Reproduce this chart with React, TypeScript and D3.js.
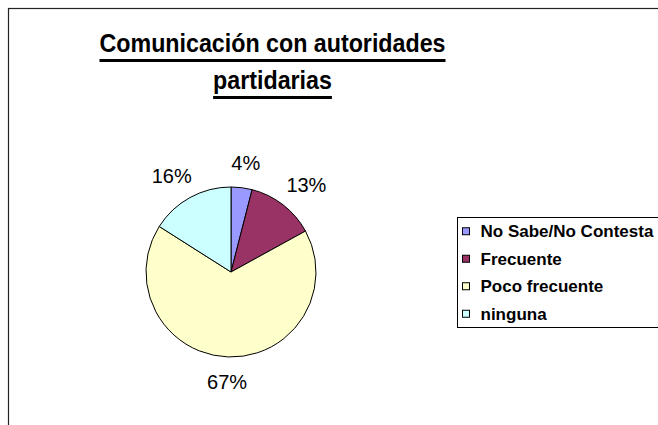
import React, { useEffect, useRef } from 'react';
import * as d3 from 'd3';

// pie data
const categories = ['No Sabe/No Contesta', 'Frecuente', 'Poco frecuente', 'ninguna'];
const shares = [4, 13, 67, 16];
const colors = ['#9999FF', '#993366', '#FFFFCC', '#CCFFFF'];
const titleLines = ['Comunicación con autoridades', 'partidarias'];

const App: React.FC = () => {
  const svgRef = useRef<SVGSVGElement>(null);

  useEffect(() => {
    if (!svgRef.current) return;
    const svg = d3.select(svgRef.current);
    svg.selectAll('*').remove();

    const width = 658;
    const height = 425;
    const font = "'Liberation Sans', Arial, sans-serif";

    // outer chart frame (runs off the right and bottom edges)
    svg.append('rect')
      .attr('x', 8.5).attr('y', 8.5)
      .attr('width', width + 40).attr('height', height + 40)
      .attr('fill', '#fff').attr('stroke', '#222').attr('stroke-width', 1.2);

    // title, slightly condensed and underlined
    const titleX = 272.5;
    const squeeze = 0.93;
    titleLines.forEach((line, i) => {
      const baseline = 52 + i * 37;
      const t = svg.append('text')
        .attr('transform', `translate(${titleX},${baseline}) scale(${squeeze},1)`)
        .attr('text-anchor', 'middle')
        .style('font', `bold 25px ${font}`)
        .attr('fill', '#000')
        .text(line);
      const w = (t.node() as SVGTextElement).getComputedTextLength() * squeeze;
      svg.append('rect')
        .attr('x', titleX - w / 2).attr('y', baseline + 7)
        .attr('width', w).attr('height', 3)
        .attr('fill', '#000');
    });

    // pie
    const cx = 231;
    const cy = 272;
    const R = 85;
    const pie = d3.pie<number>().sort(null).value(d => d);
    const arcs = pie(shares);
    const arc = d3.arc<d3.PieArcDatum<number>>().innerRadius(0).outerRadius(R);

    const g = svg.append('g').attr('transform', `translate(${cx},${cy})`);
    g.selectAll('path')
      .data(arcs)
      .join('path')
      .attr('d', arc)
      .attr('fill', (_, i) => colors[i])
      .attr('stroke', '#000')
      .attr('stroke-width', 1);

    // percentage labels outside the pie
    const total = d3.sum(shares);
    arcs.forEach(d => {
      const a = (d.startAngle + d.endAngle) / 2;
      const t = svg.append('text')
        .attr('text-anchor', 'middle')
        .style('font', `20px ${font}`)
        .attr('fill', '#000')
        .text(`${Math.round((d.data / total) * 100)}%`);
      const w = (t.node() as SVGTextElement).getComputedTextLength();
      const h = 14;
      const off = 18;
      const x = cx + Math.sin(a) * (R + off + w / 2);
      const y = cy - Math.cos(a) * (R + off + h / 2);
      t.attr('x', x).attr('y', y + h / 2);
    });

    // legend
    const legX = 457.5;
    const legY = 217.5;
    const rowH = 27.5;
    svg.append('rect')
      .attr('x', legX).attr('y', legY)
      .attr('width', 260).attr('height', rowH * categories.length)
      .attr('fill', '#fff').attr('stroke', '#000').attr('stroke-width', 1);

    const rows = svg.append('g')
      .selectAll('g')
      .data(categories)
      .join('g')
      .attr('transform', (_, i) => `translate(${legX},${legY + rowH * i + rowH / 2})`);
    rows.append('rect')
      .attr('x', 5).attr('y', -3.5)
      .attr('width', 7).attr('height', 7)
      .attr('fill', (_, i) => colors[i])
      .attr('stroke', '#000').attr('stroke-width', 1);
    rows.append('text')
      .attr('x', 23).attr('y', 6)
      .style('font', `bold 17px ${font}`)
      .attr('fill', '#000')
      .text(d => d);
  }, []);

  return (
    <div style={{ position: 'fixed', left: 0, top: 0, width: 658, height: 425, overflow: 'hidden', background: '#fff' }}>
      <svg ref={svgRef} width={658} height={425} style={{ display: 'block' }} />
    </div>
  );
};

export default App;
